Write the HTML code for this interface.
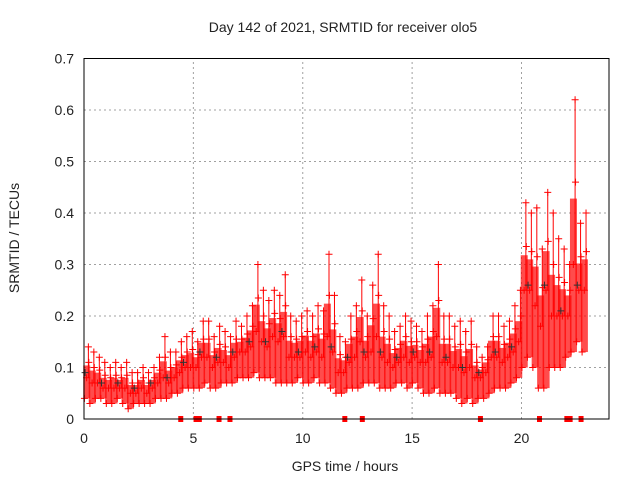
<!DOCTYPE html>
<html><head><meta charset="utf-8"><style>
body{margin:0;background:#fff}
svg{display:block}
text{font-family:"Liberation Sans",sans-serif;font-size:14px;fill:#222}
</style></head><body>
<svg id="chart" width="640" height="480" viewBox="0 0 640 480" xmlns="http://www.w3.org/2000/svg">
<rect width="640" height="480" fill="#fff"/>
<g id="grid"></g>
<g id="marks"></g>
<g id="axes"></g>
<text x="343" y="32" text-anchor="middle">Day 142 of 2021, SRMTID for receiver olo5</text>
<text x="345" y="471" text-anchor="middle">GPS time / hours</text>
<text transform="translate(19,238) rotate(-90)" text-anchor="middle">SRMTID / TECUs</text>
</svg>
<script>
const xTicks=[0,5,10,15,20];
const yTicks=[0,0.1,0.2,0.3,0.4,0.5,0.6,0.7];
const yLabels=["0","0.1","0.2","0.3","0.4","0.5","0.6","0.7"];
const binStep=0.25;
const hiVals=[0.14,0.13,0.12,0.11,0.1,0.11,0.1,0.11,0.09,0.09,0.1,0.09,0.1,0.12,0.16,0.13,0.13,0.15,0.16,0.17,0.15,0.19,0.19,0.16,0.18,0.17,0.16,0.19,0.18,0.2,0.22,0.3,0.25,0.23,0.25,0.24,0.28,0.2,0.19,0.2,0.21,0.2,0.22,0.21,0.32,0.24,0.16,0.15,0.2,0.22,0.27,0.2,0.26,0.32,0.22,0.2,0.17,0.18,0.2,0.19,0.18,0.17,0.2,0.22,0.3,0.2,0.2,0.18,0.19,0.17,0.19,0.14,0.12,0.14,0.2,0.2,0.18,0.19,0.22,0.25,0.42,0.4,0.41,0.33,0.44,0.4,0.35,0.33,0.3,0.62,0.38,0.4];
const loVals=[0.04,0.03,0.04,0.04,0.03,0.03,0.04,0.03,0.02,0.03,0.03,0.03,0.03,0.04,0.04,0.04,0.05,0.05,0.06,0.06,0.06,0.06,0.07,0.06,0.06,0.07,0.07,0.07,0.08,0.08,0.08,0.09,0.08,0.08,0.08,0.07,0.07,0.07,0.07,0.08,0.07,0.07,0.08,0.07,0.07,0.06,0.05,0.05,0.06,0.06,0.06,0.07,0.07,0.07,0.06,0.06,0.06,0.07,0.07,0.06,0.07,0.06,0.05,0.05,0.06,0.05,0.05,0.05,0.04,0.03,0.04,0.03,0.04,0.04,0.05,0.06,0.06,0.06,0.07,0.08,0.1,0.12,0.1,0.06,0.06,0.1,0.1,0.1,0.12,0.13,0.15,0.13];
const medVals=[0.08,0.07,0.07,0.06,0.06,0.06,0.06,0.06,0.05,0.05,0.06,0.05,0.06,0.07,0.08,0.07,0.08,0.09,0.1,0.1,0.1,0.12,0.12,0.1,0.11,0.11,0.1,0.12,0.13,0.13,0.14,0.17,0.15,0.14,0.16,0.15,0.16,0.12,0.12,0.12,0.13,0.12,0.13,0.12,0.16,0.13,0.09,0.09,0.11,0.12,0.15,0.12,0.13,0.16,0.12,0.11,0.1,0.11,0.12,0.11,0.12,0.11,0.11,0.12,0.16,0.11,0.11,0.1,0.1,0.09,0.1,0.08,0.08,0.09,0.12,0.12,0.11,0.12,0.13,0.15,0.25,0.25,0.22,0.18,0.25,0.2,0.2,0.2,0.2,0.3,0.25,0.25];
const flagTimes=[4.4,5.1,5.25,6.15,6.65,11.9,12.7,18.1,20.8,22.05,22.2,22.7];

const X0=84,X1=609,Y0=419,Y1=58.5;
const xs=v=>X0+v/24*(X1-X0);
const ys=v=>Y0-v/0.7*(Y0-Y1);
const NS="http://www.w3.org/2000/svg";
function mk(tag,attrs,parent){const e=document.createElementNS(NS,tag);for(const k in attrs)e.setAttribute(k,attrs[k]);parent.appendChild(e);return e;}
const grid=document.getElementById('grid'),axes=document.getElementById('axes'),marks=document.getElementById('marks');
xTicks.forEach(t=>{if(t>0){const l=mk('line',{x1:xs(t),x2:xs(t),y1:Y0,y2:Y1,stroke:'#a0a0a0','stroke-dasharray':'2,3'},grid);

}
const tx=mk('text',{x:xs(t),y:Y0+24,'text-anchor':'middle'},axes);tx.textContent=t;

});
yTicks.forEach((t,i)=>{if(t>0){const l=mk('line',{x1:X0,x2:X1,y1:ys(t),y2:ys(t),stroke:'#a0a0a0','stroke-dasharray':'2,3'},grid);

}
const tx=mk('text',{x:X0-10,y:ys(t)+5,'text-anchor':'end'},axes);tx.textContent=yLabels[i];

});
const frame=mk('rect',{x:X0,y:Y1,width:X1-X0,height:Y0-Y1,fill:'none',stroke:'#000','stroke-width':1},axes);


function plus(x,y,c,p){const e=mk('path',{d:`M${x-3.5},${y}h7M${x},${y-3.5}v7`,stroke:c,'stroke-width':1,fill:'none'},p);return e;}
hiVals.forEach((h,i)=>{
 const t=i*binStep, x=xs(t+binStep/2);
 const top=medVals[i]+(h-medVals[i])*0.4;
 const band=mk('rect',{x:x-3.5,y:ys(top),width:7,height:ys(loVals[i])-ys(top),fill:'#ff0000','fill-opacity':0.7},marks);
 
 
 const sp=mk('line',{x1:xs(t+0.2),x2:xs(t+0.2),y1:ys(h),y2:ys(medVals[i]),stroke:'#ff0000','stroke-width':1},marks);
 
 
 if(i%3===0){const b=plus(xs(t+0.05),ys(medVals[i]+0.01),'#333',marks);
 
 }
 [[loVals[i],0.02],[medVals[i],0.12],[h,0.2],[(medVals[i]+h)/2,0.22]].forEach(([v,o])=>{
  const p=plus(xs(t+o),ys(v),'#ff0000',marks);
  
  
 });
});
flagTimes.forEach(t=>{const r=mk('rect',{x:xs(t)-2,y:Y0-3,width:5,height:6,fill:'#ff0000'},marks);

});
</script>
</body></html>
